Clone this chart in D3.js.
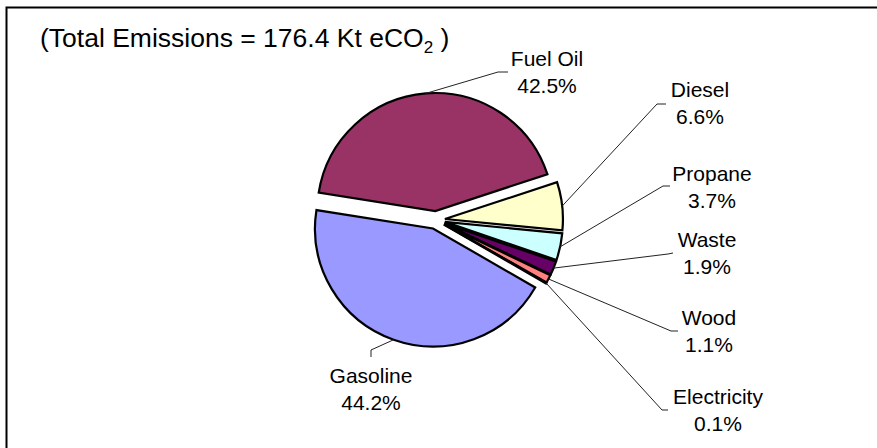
<!DOCTYPE html>
<html>
<head>
<meta charset="utf-8">
<script src="https://cdn.jsdelivr.net/npm/d3@7"></script>
<style>
  body { margin: 0; background: #fff; }
  svg { display: block; font-family: "Liberation Sans", Arial, sans-serif; }
</style>
</head>
<body>
<div id="chart"></div>
<script>
// slice order as in the workbook (first slice starts at 120 degrees)
const categories = ["Gasoline", "Fuel Oil", "Diesel", "Propane", "Waste", "Wood", "Electricity"];
const shares = [44.2, 42.5, 6.6, 3.7, 1.9, 1.1, 0.1];
const percentLabels = ["44.2%", "42.5%", "6.6%", "3.7%", "1.9%", "1.1%", "0.1%"];
const colors = ["#9999FF", "#993366", "#FFFFCC", "#CCFFFF", "#660066", "#FF8080", "#0066CC"];

// hand placed data labels: [text x, first baseline, elbow x, elbow y, end x, end y]
const labelLayout = {
  "Gasoline":    [371, 383, 371, 350, 371, 357],
  "Fuel Oil":    [547, 66, 498, 72, 508, 72],
  "Diesel":      [700, 97, 657, 104, 666, 104],
  "Propane":     [712, 181, 663, 186, 670, 186],
  "Waste":       [707, 247, 668, 254, 673, 253],
  "Wood":        [709, 325, 671, 331, 678, 331],
  "Electricity": [718, 404, 662, 410, 668, 410]
};

var width = 877, height = 448;
var cx = 436, cy = 220;
var radius = 118;
var explode = 9;

var svg = d3.select("#chart").append("svg")
  .attr("width", width)
  .attr("height", height);

// chart area frame (only top and left edges fall inside the picture)
svg.append("rect")
  .attr("x", 6.5).attr("y", 7.5)
  .attr("width", width + 20).attr("height", height + 20)
  .attr("fill", "#fff")
  .attr("stroke", "#000")
  .attr("stroke-width", 2);

// title with subscript
var title = svg.append("text")
  .attr("x", 40).attr("y", 47)
  .attr("font-size", "26.5px")
  .attr("fill", "#000");
title.append("tspan").text("(Total Emissions = 176.4 Kt eCO");
title.append("tspan").attr("font-size", "17px").attr("dy", 6).text("2");
title.append("tspan").attr("dy", -6).text(" )");

var deg = Math.PI / 180;
var pie = d3.pie().sort(null)
  .startAngle(120 * deg)
  .endAngle(480 * deg)
  .value(function (d) { return d; });

var arcs = pie(shares);
var arc = d3.arc().innerRadius(0).outerRadius(radius);

function midAngle(d) { return (d.startAngle + d.endAngle) / 2; }

var g = svg.append("g").attr("transform", "translate(" + cx + "," + cy + ")");

g.selectAll("path.slice")
  .data(arcs)
  .enter()
  .append("path")
  .attr("class", "slice")
  .attr("d", arc)
  .attr("fill", function (d, i) { return colors[i]; })
  .attr("stroke", "#000")
  .attr("stroke-width", 2.2)
  .attr("stroke-linejoin", "miter")
  .attr("transform", function (d) {
    var a = midAngle(d);
    return "translate(" + explode * Math.sin(a) + "," + (-explode * Math.cos(a)) + ")";
  });

// leader lines and labels
arcs.forEach(function (d, i) {
  var name = categories[i];
  var lay = labelLayout[name];
  var a = midAngle(d);
  var r = radius + explode;
  var sx = cx + r * Math.sin(a);
  var sy = cy - r * Math.cos(a);

  svg.append("polyline")
    .attr("points", [sx, sy, lay[2], lay[3], lay[4], lay[5]].join(","))
    .attr("fill", "none")
    .attr("stroke", "#222")
    .attr("stroke-width", 1);

  var t = svg.append("text")
    .attr("text-anchor", "middle")
    .attr("font-size", "21px")
    .attr("fill", "#000");
  t.append("tspan").attr("x", lay[0]).attr("y", lay[1]).text(name);
  t.append("tspan").attr("x", lay[0]).attr("y", lay[1] + 27).text(percentLabels[i]);
});
</script>
</body>
</html>
